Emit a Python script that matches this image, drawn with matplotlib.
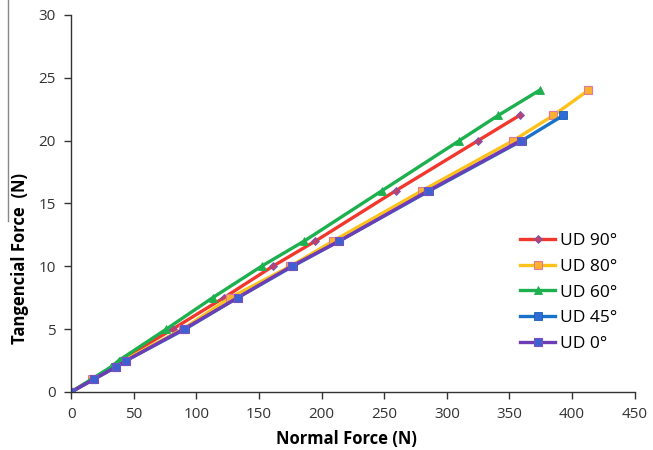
import matplotlib
matplotlib.use("Agg")
import matplotlib.pyplot as plt
from matplotlib.lines import Line2D

plt.rcParams['font.family'] = ['Open Sans', 'DejaVu Sans']

# Data (Normal force N, Tangential force N)
ud90_x = [0, 17, 33, 39, 81, 122, 161, 195, 259, 325, 358]
ud90_y = [0, 1, 2, 2.5, 5, 7.5, 10, 12, 16, 20, 22]

ud80_x = [0, 17, 35, 42, 89, 127, 175, 209, 280, 353, 385, 413]
ud80_y = [0, 1, 2, 2.5, 5, 7.5, 10, 12, 16, 20, 22, 24]

ud60_x = [0, 16, 32, 38, 76, 113, 152, 186, 248, 310, 341, 374]
ud60_y = [0, 1, 2, 2.5, 5, 7.5, 10, 12, 16, 20, 22, 24]

ud45_x = [0, 18, 36, 44, 91, 133, 177, 214, 286, 360, 393]
ud45_y = [0, 1, 2, 2.5, 5, 7.5, 10, 12, 16, 20, 22]

ud0_x = [0, 18, 36, 44, 90, 133, 176, 214, 285, 359]
ud0_y = [0, 1, 2, 2.5, 5, 7.5, 10, 12, 16, 20]

labels = ["UD 90°", "UD 80°", "UD 60°", "UD 45°", "UD 0°"]

fig = plt.figure(figsize=(6.53, 4.5), dpi=100)
ax = fig.add_axes([0.109, 0.129, 0.863, 0.838])

series = [
    (ud90_x, ud90_y, dict(color="#F2382C", marker="D", ms=4, mfc="#C0406A", mec="#6A5AC0", mew=0.6)),
    (ud80_x, ud80_y, dict(color="#FFC21A", marker="s", ms=6, mfc="#FFB02E", mec="#E07A9A", mew=0.8)),
    (ud60_x, ud60_y, dict(color="#1DB04E", marker="^", ms=6, mfc="#1DB04E", mec="#1DB04E", mew=0.6)),
    (ud45_x, ud45_y, dict(color="#1A72C8", marker="s", ms=5.5, mfc="#2E6CD6", mec="#1A5CB8", mew=0.6)),
    (ud0_x, ud0_y, dict(color="#6E3CB4", marker="s", ms=5.5, mfc="#3F60D0", mec="#7A50C0", mew=0.8)),
]
for (x, y, st), lab in zip(series, labels):
    ax.plot(x, y, lw=2.4, label=lab, **st)

ax.set_xlim(0, 450)
ax.set_ylim(0, 30)
ax.set_xticks(range(0, 451, 50))
ax.set_yticks(range(0, 31, 5))
for s in ["top", "right"]:
    ax.spines[s].set_visible(False)
for s in ["left", "bottom"]:
    ax.spines[s].set_color("#333333")
    ax.spines[s].set_linewidth(1.0)
ax.tick_params(direction="out", length=5, width=1, colors="#333333",
               labelsize=11, labelcolor="#333333", pad=6)
ax.set_xlabel("Normal Force (N)", fontsize=12, fontweight="bold")
ax.set_ylabel("Tangencial Force  (N)", fontsize=12, fontweight="bold")
ax.xaxis.set_label_coords(0.488, -0.1)
ax.yaxis.set_label_coords(-0.074, 0.355)

leg = ax.legend(loc="upper left", bbox_to_anchor=(0.785, 0.44), frameon=False,
                fontsize=12.5, handlelength=2.0, handletextpad=0.3,
                labelspacing=0.55, borderaxespad=0)

fig.add_artist(Line2D([0.013, 0.013], [1.0, 0.51], color="#888888", lw=1.0))

fig.savefig("out.png", dpi=100)
